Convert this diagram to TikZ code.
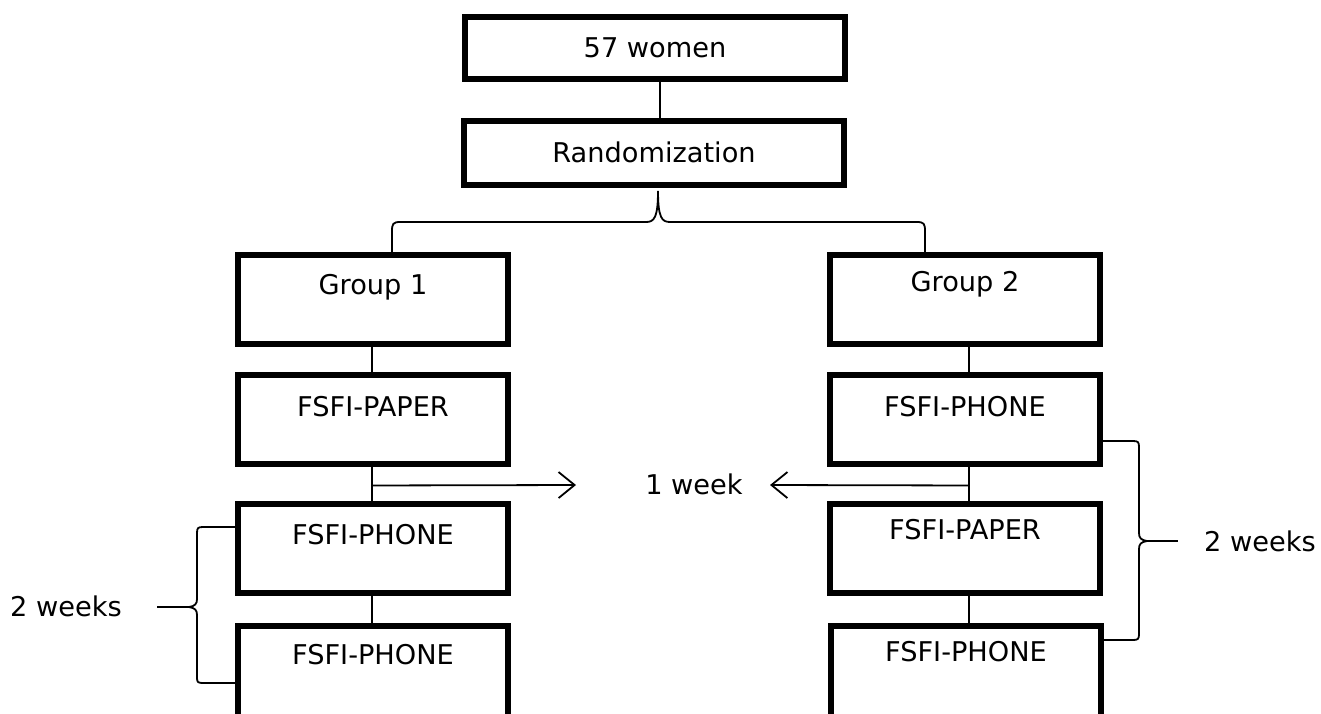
\documentclass[tikz,border=0pt]{standalone}
\usepackage{fontspec}
\setmainfont{DejaVu Sans}
\usetikzlibrary{arrows.meta,calc}
\begin{document}
\begin{tikzpicture}[x=0.5pt,y=-0.5pt,
  box/.style={draw,line width=3pt,minimum width=135pt,minimum height=44.5pt,inner sep=0pt},
  cut/.style={box,minimum height=60pt},
  wide/.style={box,minimum width=190pt,minimum height=31pt},
  txt/.style={inner sep=0pt,font=\fontsize{13.6}{16}\selectfont},
  conn/.style={line width=0.9pt},
  arr/.style={conn,-{Straight Barb[length=8pt,width=13pt,line width=0.9pt]}}]
\useasboundingbox (0,0) rectangle (1321,713);
\clip (0,0) rectangle (1321,713);
% boxes
\node[wide] (women) at (655,48) {};
\node[txt] (womenT) at (655,48) {57 women};
\node[wide,minimum height=32pt] (rand) at (654,153) {};
\node[txt] (randT) at (654,152) {Randomization};
\node[box] (g1) at (373,299.5) {};
\node[txt] (g1T) at (373,287) {Group 1};
\node[box] (pa1) at (373,419) {};
\node[txt] (pa1T) at (373,407) {FSFI-PAPER};
\node[box] (ph1) at (373,548.5) {};
\node[txt] (ph1T) at (373,535) {FSFI-PHONE};
\node[cut,anchor=north] (ph1b) at (373,623) {};
\node[txt] (ph1bT) at (373,655) {FSFI-PHONE};
\node[box] (g2) at (965,299.5) {};
\node[txt] (g2T) at (965,284) {Group 2};
\node[box] (ph2) at (965,419) {};
\node[txt] (ph2T) at (965,407) {FSFI-PHONE};
\node[box] (pa2) at (965,548.5) {};
\node[txt] (pa2T) at (965,530) {FSFI-PAPER};
\node[cut,anchor=north] (ph2b) at (966,623) {};
\node[txt] (ph2bT) at (966,652) {FSFI-PHONE};
\node[txt] (week) at (694,484) {1 week};
\node[txt] (w2L) at (66,606) {2 weeks};
\node[txt] (w2R) at (1260,541) {2 weeks};
% connector columns
\coordinate (cT) at (660,0);
\coordinate (cL) at (372,0);
\coordinate (cR) at (969,0);
% vertical connectors
\draw[conn] (women.south -| cT) -- (rand.north -| cT);
\draw[conn] (g1.south -| cL) -- (pa1.north -| cL);
\draw[conn] (pa1.south -| cL) -- coordinate[pos=0.55] (aL) (ph1.north -| cL);
\draw[conn] (ph1.south -| cL) -- (ph1b.north -| cL);
\draw[conn] (g2.south -| cR) -- (ph2.north -| cR);
\draw[conn] (ph2.south -| cR) -- coordinate[pos=0.55] (aR) (pa2.north -| cR);
\draw[conn] (pa2.south -| cR) -- (ph2b.north -| cR);
% 1 week arrows
\coordinate (aLend) at (576,485);
\coordinate (aRend) at (770,485);
\draw[arr] (aL) -- (aLend);
\draw[arr] (aR) -- (aRend);
% top brace
\coordinate (tip) at (658,191);
\draw[conn] (392,252) -- (392,231) .. controls (392,224) and (393,222) .. (400,222)
  -- (646,222) .. controls (654,222) and (658,218) .. (tip)
  .. controls (658,218) and (662,222) .. (670,222)
  -- (917,222) .. controls (924,222) and (925,224) .. (925,231) -- (925,252);
% left brace
\draw[conn] (g1.west |- 0,527) -- (203,527) .. controls (198,527) and (197,528) .. (197,533)
  -- (197,599) .. controls (197,604) and (195,606) .. (189,607)
  .. controls (195,608) and (197,610) .. (197,615)
  -- (197,678) .. controls (197,682) and (198,683) .. (203,683) -- (ph1b.west |- 0,683);
\draw[conn] (157,607) -- (189,607);
% right brace
\draw[conn] (ph2.east |- 0,441) -- (1133,441) .. controls (1138,441) and (1139,442) .. (1139,447)
  -- (1139,533) .. controls (1139,538) and (1141,540) .. (1147,541)
  .. controls (1141,542) and (1139,544) .. (1139,549)
  -- (1139,634) .. controls (1139,639) and (1138,640) .. (1133,640) -- (ph2b.east |- 0,640);
\draw[conn] (1147,541) -- (1178,541);
\end{tikzpicture}
\end{document}
